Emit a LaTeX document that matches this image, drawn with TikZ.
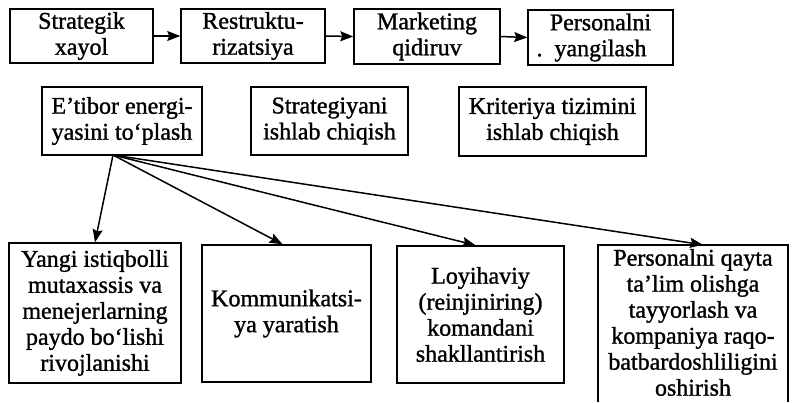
\documentclass[tikz,border=0pt]{standalone}
\usepackage{fontspec}
\setmainfont{Liberation Serif}[FakeBold=1.2]
\usetikzlibrary{arrows.meta,calc}
\tikzset{
  boxst/.style={draw, line width=1.5pt, align=center, inner sep=0pt,
    font=\fontsize{24}{26}\selectfont},
  txtst/.style={align=center, inner sep=0pt, font=\fontsize{24}{26}\selectfont},
  arr/.style={line width=1.5pt, -{Stealth[length=13pt,width=10pt,inset=2pt]}}
}
\begin{document}
\begin{tikzpicture}[x=1pt,y=-1pt]
\useasboundingbox (0,0) rectangle (797,402);
% top row
\node[boxst, minimum width=143pt, minimum height=54pt] (b1) at (81.5,36) {Strategik\\xayol};
\node[boxst, minimum width=144pt, minimum height=54pt] (b2) at (253,36) {Restruktu-\\rizatsiya};
\node[boxst, minimum width=146pt, minimum height=55pt] (b3) at (427,36.5) {Marketing\\qidiruv};
\node[boxst, minimum width=145pt, minimum height=55pt] (b4) at (600.5,37.5) {Personalni\\\llap{.\hspace{12pt}}yangilash};
% second row
\node[boxst, minimum width=160pt, minimum height=68pt] (b5) at (122,121) {E’tibor energi-\\yasini to‘plash};
\node[boxst, minimum width=157pt, minimum height=68pt] (b6) at (329.5,121) {Strategiyani\\ishlab chiqish};
\node[boxst, minimum width=187pt, minimum height=69pt] (b7) at (552.5,121.5) {Kriteriya tizimini\\ishlab chiqish};
% third row
\node[boxst, minimum width=172pt, minimum height=140pt] (b8) at (95,313) {Yangi istiqbolli\\mutaxassis va\\menejerlarning\\paydo bo‘lishi\\rivojlanishi};
\node[boxst, minimum width=169pt, minimum height=137pt] (b9) at (286.5,313.5) {Kommunikatsi-\\ya yaratish};
\node[boxst, minimum width=167pt, minimum height=137pt] (b10) at (480.5,314.5) {Loyihaviy\\(reinjiniring)\\komandani\\shakllantirish};
\node[txtst, minimum width=190pt, minimum height=157pt] (b11) at (693,323.5) {};
\node[txtst, anchor=north] (t11) at ([yshift=-4pt]b11.north) {Personalni qayta\\ta’lim olishga\\tayyorlash va\\kompaniya raqo-\\batbardoshliligini\\oshirish};
\draw[line width=1.5pt] (b11.south west) -- (b11.north west) -- (b11.north east) -- (b11.south east);
% top arrows
\draw[arr] (b1.east) -- (b2.west);
\draw[arr] (b2.east) -- (b3.west);
\draw[arr] (b3.east) -- (b4.west);
% fan arrows
\coordinate (src) at (113,155);
\draw[arr] (src) -- (b8.north);
\draw[arr] (src) -- ([xshift=-4pt]b9.north);
\draw[arr] (src) -- ([xshift=-5pt]b10.north);
\draw[arr] (src) -- ([xshift=10pt]b11.north);
\end{tikzpicture}
\end{document}
